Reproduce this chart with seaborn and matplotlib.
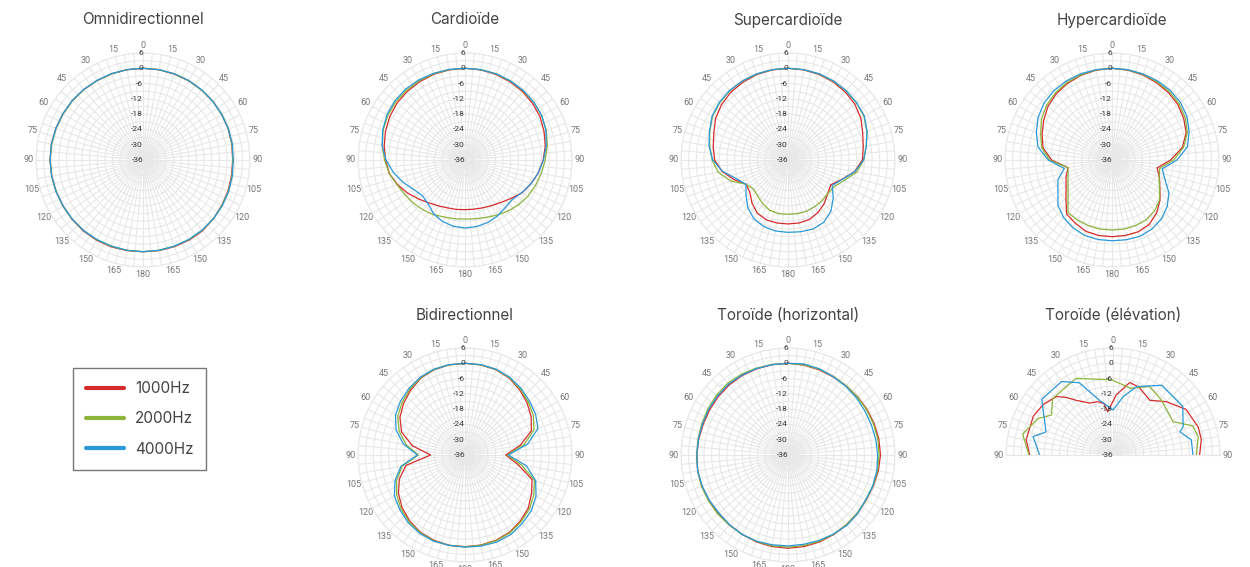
"""Microphone polar patterns - 6 patterns, 3 frequencies"""

import numpy as np
import pandas as pd
import matplotlib.pyplot as plt
import seaborn as sns
from matplotlib.lines import Line2D

FREQS = ["1000Hz", "2000Hz", "4000Hz"]
COLORS = ["#d62b2b", "#8db43c", "#2a98d8"]

# full-circle patterns, one value every 10 degrees (clockwise from front)
ANGLES = list(range(0, 360, 10))

OMNI_1K = [0, 0, -0.1, -0.1, -0.2, -0.2, -0.3, -0.4, -0.6, -0.8, -0.7, -0.5, -0.3, 0, 0.3, 0.3, 0.2, 0.1,
           0, 0.1, 0.3, 0.4, 0.4, 0.3, 0.2, 0.3, 0.4, 0.5, 0.5, 0.4, 0.3, 0.2, 0.1, 0, 0, 0]
OMNI_2K = [0, 0, 0, -0.1, -0.2, -0.2, -0.3, -0.3, -0.5, -0.7, -0.5, -0.3, -0.2, 0, 0.1, 0.1, 0, 0,
           0, 0, 0.1, 0.2, 0.2, 0.3, 0.3, 0.3, 0.4, 0.5, 0.4, 0.3, 0.2, 0.2, 0.1, 0, 0, 0]
OMNI_4K = [0, 0, 0, 0, -0.1, -0.2, -0.3, -0.3, -0.4, -0.6, -0.4, -0.2, -0.1, 0, 0, 0, 0, 0,
           0, 0, 0, 0.1, 0.2, 0.2, 0.2, 0.3, 0.4, 0.5, 0.5, 0.4, 0.3, 0.3, 0.2, 0.1, 0.1, 0]

CARD_1K = [0, -0.1, -0.3, -0.6, -0.9, -1.4, -2.0, -3.0, -4.0, -5.3, -6.8, -8.5, -10.2, -12.5, -14.2, -15.3, -16.0, -16.4,
           -16.5, -16.3, -16.0, -15.2, -14.0, -12.2, -10.0, -7.8, -5.8, -4.8, -3.8, -2.8, -1.9, -1.2, -0.8, -0.5, -0.2, -0.1]
CARD_2K = [0, 0, -0.1, -0.3, -0.5, -0.8, -1.2, -2.0, -3.2, -4.5, -5.6, -6.6, -7.5, -8.6, -9.8, -11.0, -12.0, -12.6,
           -12.8, -12.6, -12.2, -11.2, -10.4, -9.6, -8.8, -7.6, -5.8, -4.4, -3.0, -1.8, -1.0, -0.5, -0.3, -0.1, 0, 0]
CARD_4K = [0, 0, 0, -0.2, -0.4, -0.7, -1.2, -2.2, -3.6, -5.2, -6.8, -8.5, -10.3, -11.8, -11.5, -10.6, -9.9, -9.5,
           -9.3, -9.6, -10.3, -11.5, -13.5, -14.2, -12.8, -10.2, -7.5, -5.0, -3.0, -1.6, -0.6, 0, 0.3, 0.3, 0.2, 0.1]

SUPER_1K = [0, -0.1, -0.3, -0.6, -1.1, -1.8, -3.0, -4.8, -6.0, -6.8, -9.5, -13.6, -16.6, -15.6, -13.8, -12.3, -11.2, -10.9,
            -10.9, -10.9, -11.0, -11.9, -14.0, -16.4, -17.0, -13.5, -9.8, -7.2, -6.2, -5.0, -3.2, -2.0, -1.2, -0.7, -0.3, -0.1]
SUPER_2K = [0, 0, -0.1, -0.3, -0.6, -1.0, -1.6, -3.0, -4.8, -6.3, -8.6, -12.5, -15.1, -15.6, -15.2, -14.9, -14.6, -14.6,
            -14.7, -14.6, -15.0, -16.2, -17.5, -18.3, -17.0, -12.0, -8.2, -6.2, -4.8, -3.3, -1.8, -1.0, -0.5, -0.2, -0.1, 0]
SUPER_4K = [0, 0, 0, -0.2, -0.5, -0.9, -1.4, -3.0, -4.8, -6.3, -9.4, -13.5, -16.0, -12.8, -9.8, -7.8, -7.2, -7.4,
            -7.6, -7.7, -8.2, -9.3, -11.5, -14.5, -16.9, -14.5, -10.0, -6.5, -4.5, -3.2, -1.6, -0.8, -0.4, -0.2, 0, 0]

HYPER_1K = [0, -0.2, -0.5, -1.0, -1.5, -2.2, -3.5, -5.0, -8.0, -13.0, -18.0, -16.2, -14.3, -11.4, -8.8, -6.8, -6.0, -5.9,
            -5.9, -5.9, -6.2, -7.3, -8.3, -12.4, -15.2, -16.8, -18.5, -12.3, -8.5, -6.8, -5.0, -3.2, -2.0, -1.2, -0.6, -0.2]
HYPER_2K = [0, -0.1, -0.3, -0.6, -1.0, -1.6, -2.8, -4.5, -7.5, -11.8, -17.0, -16.3, -14.5, -11.6, -10.0, -9.0, -8.6, -8.5,
            -8.5, -8.5, -8.6, -8.8, -9.1, -13.5, -16.1, -17.6, -18.5, -11.5, -8.0, -6.2, -4.0, -2.5, -1.5, -0.8, -0.4, -0.1]
HYPER_4K = [0, 0, -0.1, -0.2, -0.4, -0.9, -2.0, -3.8, -5.9, -10.5, -16.0, -13.9, -10.2, -7.7, -5.8, -4.7, -4.1, -4.2,
            -4.3, -4.3, -4.5, -5.3, -6.5, -8.3, -11.5, -13.4, -17.0, -11.0, -6.5, -4.4, -2.5, -1.2, -0.5, -0.2, 0, 0]

BIDIR_1K = [0, -0.1, -0.4, -1.2, -2.6, -4.2, -6.0, -8.3, -14.0, -20.0, -15.0, -8.0, -5.8, -3.6, -2.2, -1.0, -0.4, -0.1,
            0, 0, -0.4, -1.0, -2.2, -3.8, -5.8, -8.6, -12.5, -22.5, -15.0, -9.5, -6.5, -4.5, -2.8, -1.2, -0.4, -0.1]
BIDIR_2K = [0, -0.1, -0.3, -1.0, -2.2, -3.6, -5.0, -7.2, -12.5, -19.4, -13.5, -7.0, -4.8, -3.0, -1.8, -0.7, -0.2, 0,
            0, 0, -0.2, -0.8, -1.8, -3.2, -5.0, -7.5, -11.0, -17.7, -12.5, -8.5, -5.5, -3.8, -2.3, -1.0, -0.3, -0.1]
BIDIR_4K = [0, 0, -0.2, -0.8, -1.8, -3.0, -4.0, -5.5, -11.0, -19.0, -11.5, -6.5, -3.8, -2.0, -1.0, 0, 0.4, 0.3,
            0.2, 0, 0, -0.5, -1.3, -2.6, -4.0, -6.8, -10.5, -17.3, -11.5, -7.2, -4.5, -3.0, -1.8, -0.8, -0.2, 0]

TOROH_1K = [0, -0.2, -0.4, -0.6, -0.6, -0.4, -0.2, 0, 0.2, 0.3, 0, -0.4, -0.6, -0.5, -0.3, 0, 0.3, 0.5,
            0.6, 0.5, 0.3, 0, -0.2, -0.3, -0.2, 0, 0, -0.2, -0.4, -0.6, -0.5, -0.3, -0.1, 0, 0, 0]
TOROH_2K = [0, -0.1, -0.2, -0.4, -0.5, -0.5, -0.4, -0.3, -0.2, -0.2, -0.3, -0.5, -0.6, -0.5, -0.3, -0.1, 0, 0.1,
            0.2, 0.2, 0.1, 0, -0.1, 0, 0, 0.1, 0, -0.2, -0.1, 0, 0.3, 0.6, 0.8, 0.6, 0.3, 0.1]
TOROH_4K = [0, 0.3, 0, -0.5, -0.8, -1.0, -1.2, -1.2, -1.0, -0.8, -0.6, -0.6, -0.8, -0.3, 0, -0.2, -0.3, -0.4,
            -0.3, -0.2, 0, 0, -0.3, -0.6, -0.4, -0.2, 0, -0.2, -0.3, -0.3, -0.1, 0.1, 0.3, 0.2, 0.1, 0]

# elevation toroid, half plane (-90 = left, +90 = right)
ELEV_ANG_1K = [-90, -80, -64, -54, -44, -39, -34, -24, -16, -10, -7, 3, 13, 21, 34, 45, 58, 72, 80, 90]
ELEV_1K = [-3.3, -1.4, -1.2, -2.2, -4.1, -6.9, -10.1, -13.7, -14.2, -15.5, -18.9, -12.4, -6.8, -7.5, -10.1, -6.4,
           -2.2, -0.8, -0.8, -2.0]
ELEV_ANG_2K = [-90, -77, -64, -57, -47, -26, -15, -1, 5, 15, 28, 41, 61, 70, 78, 90]
ELEV_2K = [-3.0, 0.4, -3.3, -7.2, -3.6, -2.6, -5.1, -6.5, -7.7, -8.9, -5.5, -7.2, -9.0, -2.6, -1.8, -3.3]
ELEV_ANG_4K = [-90, -77, -71, -52, -35, -25, -14, 0, 10, 19, 35, 55, 68, 71, 79, 90]
ELEV_4K = [-7.2, -3.8, -8.2, -0.5, -0.8, -4.7, -13.8, -18.3, -12.7, -7.6, -2.6, -2.6, -6.3, -8.2, -4.7, -4.6]

W, H = 1250, 567
R = 107  # outer ring radius in pixels
GRID = "#e8e8e8"
TICK_FONT = ["Roboto", "DejaVu Sans"]


def to_frame(angles, series, close=True):
    rows = []
    for freq, vals in zip(FREQS, series):
        a = list(angles)
        v = list(vals)
        if close:
            a = a + [a[0] + 360]
            v = v + [v[0]]
        for ang, db in zip(a, v):
            rows.append({"theta": np.deg2rad(ang), "db": db, "freq": freq})
    return pd.DataFrame(rows)


def style_polar(ax, half=False):
    ax.set_theta_zero_location("N")
    ax.set_theta_direction(-1)
    if half:
        ticks = np.arange(-90, 91, 5)
        labels = [str(abs(t)) if t % 15 == 0 else "" for t in ticks]
        ax.set_thetamin(-90)
        ax.set_thetamax(90)
    else:
        ticks = np.arange(0, 360, 5)
        labels = [str(min(t, 360 - t)) if t % 15 == 0 else "" for t in ticks]
    ax.set_xticks(np.deg2rad(ticks))
    ax.set_xticklabels(labels, family=TICK_FONT)
    ax.set_ylim(-36, 6)
    rt = np.arange(-36, 7, 3)
    ax.set_yticks(rt)
    ax.set_yticklabels([])
    # radial labels along the front axis
    for t in rt[::2]:
        ax.text(0, t, str(t), ha="right", va="center", fontsize=6, color="#333333",
                family=TICK_FONT, zorder=5)
    ax.grid(True, color=GRID, lw=0.8)
    for sp in ax.spines.values():
        sp.set_color(GRID)
        sp.set_linewidth(0.8)
    ax.tick_params(axis="x", length=0, pad=-1.5, labelsize=6.5, labelcolor="#777777")
    ax.tick_params(axis="y", length=0)
    ax.set_xlabel("")
    ax.set_ylabel("")


def add_pattern(fig, cx, cy, title, df, half=False):
    left = (cx - R) / W
    bottom = (H - cy - R) / H
    if half:
        bottom = (H - cy - R / 2) / H
    ax = fig.add_axes([left, bottom, 2 * R / W, 2 * R / H], projection="polar")
    sns.lineplot(data=df, x="theta", y="db", hue="freq", palette=dict(zip(FREQS, COLORS)),
                 sort=False, estimator=None, legend=False, lw=0.9, ax=ax)
    style_polar(ax, half)
    fig.text(cx / W, 1 - (cy - 140) / H, title, ha="center", va="center",
             fontsize=11, color="#444444")
    return ax


def main():
    sns.set_style("white")
    plt.rcParams["font.family"] = ["Inter", "DejaVu Sans"]
    fig = plt.figure(figsize=(W / 100, H / 100), dpi=100)

    add_pattern(fig, 143, 160, "Omnidirectionnel", to_frame(ANGLES, [OMNI_1K, OMNI_2K, OMNI_4K]))
    add_pattern(fig, 465, 160, "Cardioïde", to_frame(ANGLES, [CARD_1K, CARD_2K, CARD_4K]))
    add_pattern(fig, 788, 160, "Supercardioïde", to_frame(ANGLES, [SUPER_1K, SUPER_2K, SUPER_4K]))
    add_pattern(fig, 1112, 160, "Hypercardioïde", to_frame(ANGLES, [HYPER_1K, HYPER_2K, HYPER_4K]))
    add_pattern(fig, 465, 455, "Bidirectionnel", to_frame(ANGLES, [BIDIR_1K, BIDIR_2K, BIDIR_4K]))
    add_pattern(fig, 788, 455, "Toroïde (horizontal)", to_frame(ANGLES, [TOROH_1K, TOROH_2K, TOROH_4K]))

    rows = []
    for freq, angs, vals in zip(FREQS, [ELEV_ANG_1K, ELEV_ANG_2K, ELEV_ANG_4K], [ELEV_1K, ELEV_2K, ELEV_4K]):
        for a, v in zip(angs, vals):
            rows.append({"theta": np.deg2rad(a), "db": v, "freq": freq})
    add_pattern(fig, 1113, 455, "Toroïde (élévation)", pd.DataFrame(rows), half=True)

    handles = [Line2D([], [], color=c, lw=3) for c in COLORS]
    fig.legend(handles, FREQS, loc="upper left", bbox_to_anchor=(73 / W, 1 - 368 / H),
               borderaxespad=0, frameon=True, fancybox=False, edgecolor="#555555", fontsize=11,
               handlelength=2.5, handletextpad=0.7, labelspacing=1.0, borderpad=0.85,
               labelcolor="#444444")

    fig.savefig("out.png", dpi=100, facecolor="white")


if __name__ == "__main__":
    main()
